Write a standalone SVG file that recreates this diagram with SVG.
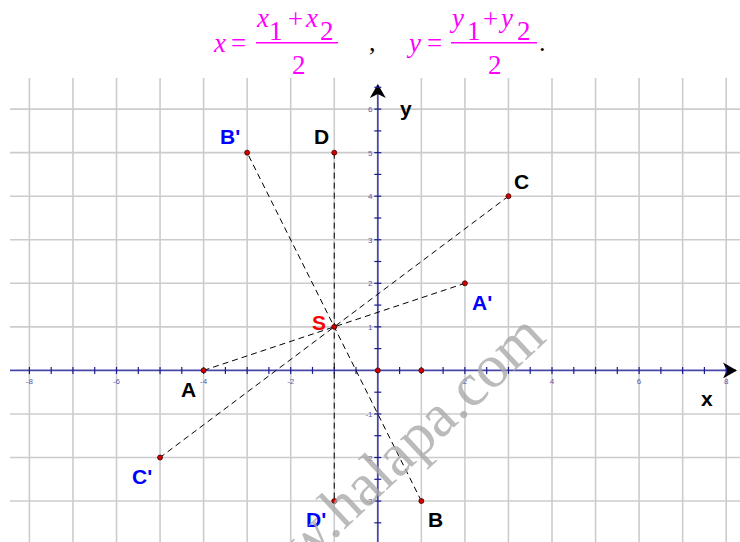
<svg xmlns="http://www.w3.org/2000/svg" width="740" height="542" viewBox="0 0 740 542">
<style>
.grid line{stroke:#cccccc;stroke-width:1.6}
.axis{stroke:#4848a8;stroke-width:1.8;fill:none}
.tick{stroke:#1c1c8c;stroke-width:1.2}
.tl{font-family:"Liberation Sans",Arial,sans-serif;font-size:8px;fill:#5a5aa8}
.tlx{text-anchor:middle}
.tly{text-anchor:end}
.f{font-family:"Liberation Serif","Times New Roman",serif;font-size:27px;fill:#ff00ff}
.fi{font-style:italic}
.fl{stroke:#ff00ff;stroke-width:1.4}
.lbl{font-family:"Liberation Sans",Arial,sans-serif;font-weight:bold;font-size:21px}
.k{fill:#000}
.b{fill:#0000ff}
.r{fill:#ff0000}
.pt{fill:#d40000;stroke:#3a0000;stroke-width:0.8}
.dash{stroke:#000;stroke-width:1;stroke-dasharray:6,4;fill:none}
.wm{font-family:"Liberation Serif","Times New Roman",serif;font-size:61px;fill:#a8a8a8;opacity:0.78}
</style>
<defs>
<marker id="arr" viewBox="0 0 14 16" refX="13" refY="8" markerWidth="14" markerHeight="16" markerUnits="userSpaceOnUse" orient="auto">
<path d="M0,0 L14,8 L0,16 L4,8 Z" fill="#000"/>
</marker>
</defs>
<rect width="740" height="542" fill="#fff"/>

<!-- formula -->
<g id="formula">
<text class="f fi" x="214" y="51.5">x</text>
<text class="f" x="231" y="51.5">=</text>
<line class="fl" x1="256" y1="42.7" x2="338" y2="42.7"/>
<text class="f fi" x="257" y="27">x</text>
<text class="f" x="269" y="40">1</text>
<text class="f" x="288" y="28">+</text>
<text class="f fi" x="306" y="27">x</text>
<text class="f" x="320" y="40">2</text>
<text class="f" x="292" y="74">2</text>
<text x="369" y="51" style="font-family:'Liberation Serif',serif;font-size:26px;fill:#000">,</text>
<text class="f fi" x="409" y="51.5">y</text>
<text class="f" x="427" y="51.5">=</text>
<line class="fl" x1="451" y1="42.7" x2="537" y2="42.7"/>
<text class="f fi" x="452" y="27">y</text>
<text class="f" x="467" y="40">1</text>
<text class="f" x="483" y="28">+</text>
<text class="f fi" x="501" y="27">y</text>
<text class="f" x="517" y="40">2</text>
<text class="f" x="488" y="74">2</text>
<text x="539" y="51" style="font-family:'Liberation Serif',serif;font-size:26px;fill:#000">.</text>
</g>

<!-- grid -->
<g class="grid">
<line x1="29.4" y1="78" x2="29.4" y2="542"/>
<line x1="72.95" y1="78" x2="72.95" y2="542"/>
<line x1="116.5" y1="78" x2="116.5" y2="542"/>
<line x1="160.05" y1="78" x2="160.05" y2="542"/>
<line x1="203.6" y1="78" x2="203.6" y2="542"/>
<line x1="247.15" y1="78" x2="247.15" y2="542"/>
<line x1="290.7" y1="78" x2="290.7" y2="542"/>
<line x1="334.25" y1="78" x2="334.25" y2="542"/>
<line x1="421.35" y1="78" x2="421.35" y2="542"/>
<line x1="464.9" y1="78" x2="464.9" y2="542"/>
<line x1="508.45" y1="78" x2="508.45" y2="542"/>
<line x1="552" y1="78" x2="552" y2="542"/>
<line x1="595.55" y1="78" x2="595.55" y2="542"/>
<line x1="639.1" y1="78" x2="639.1" y2="542"/>
<line x1="682.65" y1="78" x2="682.65" y2="542"/>
<line x1="726.2" y1="78" x2="726.2" y2="542"/>
<line x1="10" y1="109.1" x2="740" y2="109.1"/>
<line x1="10" y1="152.65" x2="740" y2="152.65"/>
<line x1="10" y1="196.2" x2="740" y2="196.2"/>
<line x1="10" y1="239.75" x2="740" y2="239.75"/>
<line x1="10" y1="283.3" x2="740" y2="283.3"/>
<line x1="10" y1="326.85" x2="740" y2="326.85"/>
<line x1="10" y1="413.95" x2="740" y2="413.95"/>
<line x1="10" y1="457.5" x2="740" y2="457.5"/>
<line x1="10" y1="501.05" x2="740" y2="501.05"/>
</g>

<!-- axes -->
<g id="axes">
<line class="axis" x1="10" y1="370.4" x2="736" y2="370.4" marker-end="url(#arr)"/>
<line class="axis" x1="377.8" y1="542" x2="377.8" y2="85" marker-end="url(#arr)"/>
<g class="tick">
<line x1="29.4" y1="366.9" x2="29.4" y2="373.9"/><line x1="51.2" y1="366.9" x2="51.2" y2="373.9"/>
<line x1="72.95" y1="366.9" x2="72.95" y2="373.9"/><line x1="94.7" y1="366.9" x2="94.7" y2="373.9"/>
<line x1="116.5" y1="366.9" x2="116.5" y2="373.9"/><line x1="138.3" y1="366.9" x2="138.3" y2="373.9"/>
<line x1="160.05" y1="366.9" x2="160.05" y2="373.9"/><line x1="181.8" y1="366.9" x2="181.8" y2="373.9"/>
<line x1="203.6" y1="366.9" x2="203.6" y2="373.9"/><line x1="225.4" y1="366.9" x2="225.4" y2="373.9"/>
<line x1="247.15" y1="366.9" x2="247.15" y2="373.9"/><line x1="268.9" y1="366.9" x2="268.9" y2="373.9"/>
<line x1="290.7" y1="366.9" x2="290.7" y2="373.9"/><line x1="312.5" y1="366.9" x2="312.5" y2="373.9"/>
<line x1="334.25" y1="366.9" x2="334.25" y2="373.9"/><line x1="356" y1="366.9" x2="356" y2="373.9"/>
<line x1="399.6" y1="366.9" x2="399.6" y2="373.9"/><line x1="421.35" y1="366.9" x2="421.35" y2="373.9"/>
<line x1="443.1" y1="366.9" x2="443.1" y2="373.9"/><line x1="464.9" y1="366.9" x2="464.9" y2="373.9"/>
<line x1="486.7" y1="366.9" x2="486.7" y2="373.9"/><line x1="508.45" y1="366.9" x2="508.45" y2="373.9"/>
<line x1="530.2" y1="366.9" x2="530.2" y2="373.9"/><line x1="552" y1="366.9" x2="552" y2="373.9"/>
<line x1="573.8" y1="366.9" x2="573.8" y2="373.9"/><line x1="595.55" y1="366.9" x2="595.55" y2="373.9"/>
<line x1="617.3" y1="366.9" x2="617.3" y2="373.9"/><line x1="639.1" y1="366.9" x2="639.1" y2="373.9"/>
<line x1="660.9" y1="366.9" x2="660.9" y2="373.9"/><line x1="682.65" y1="366.9" x2="682.65" y2="373.9"/>
<line x1="704.4" y1="366.9" x2="704.4" y2="373.9"/><line x1="726.2" y1="366.9" x2="726.2" y2="373.9"/>
<line x1="374.3" y1="87.3" x2="381.3" y2="87.3"/><line x1="374.3" y1="109.1" x2="381.3" y2="109.1"/>
<line x1="374.3" y1="130.9" x2="381.3" y2="130.9"/><line x1="374.3" y1="152.65" x2="381.3" y2="152.65"/>
<line x1="374.3" y1="174.4" x2="381.3" y2="174.4"/><line x1="374.3" y1="196.2" x2="381.3" y2="196.2"/>
<line x1="374.3" y1="218" x2="381.3" y2="218"/><line x1="374.3" y1="239.75" x2="381.3" y2="239.75"/>
<line x1="374.3" y1="261.5" x2="381.3" y2="261.5"/><line x1="374.3" y1="283.3" x2="381.3" y2="283.3"/>
<line x1="374.3" y1="305.1" x2="381.3" y2="305.1"/><line x1="374.3" y1="326.85" x2="381.3" y2="326.85"/>
<line x1="374.3" y1="348.6" x2="381.3" y2="348.6"/>
<line x1="374.3" y1="392.2" x2="381.3" y2="392.2"/><line x1="374.3" y1="413.95" x2="381.3" y2="413.95"/>
<line x1="374.3" y1="435.7" x2="381.3" y2="435.7"/><line x1="374.3" y1="457.5" x2="381.3" y2="457.5"/>
<line x1="374.3" y1="479.3" x2="381.3" y2="479.3"/><line x1="374.3" y1="501.05" x2="381.3" y2="501.05"/>
<line x1="374.3" y1="522.8" x2="381.3" y2="522.8"/>
</g>
<g class="tl tlx">
<text x="29.4" y="384">-8</text><text x="116.5" y="384">-6</text><text x="203.6" y="384">-4</text><text x="290.7" y="384">-2</text>
<text x="464.9" y="384">2</text><text x="552" y="384">4</text><text x="639.1" y="384">6</text><text x="726.2" y="384">8</text>
</g>
<g class="tl tly">
<text x="372.5" y="112">6</text><text x="372.5" y="155.6">5</text><text x="372.5" y="199.2">4</text><text x="372.5" y="242.7">3</text>
<text x="372.5" y="286.3">2</text><text x="372.5" y="329.8">1</text><text x="372.5" y="417">-1</text><text x="372.5" y="460.5">-2</text><text x="372.5" y="504">-3</text>
</g>
<text class="lbl k" x="701" y="406">x</text>
<text class="lbl k" x="400" y="116">y</text>
</g>

<!-- connectors -->
<g id="connectors">
<line class="dash" x1="203.6" y1="370.4" x2="464.9" y2="283.3"/>
<line class="dash" x1="421.35" y1="501.05" x2="247.15" y2="152.65"/>
<line class="dash" x1="508.45" y1="196.2" x2="160.05" y2="457.5"/>
<line class="dash" x1="334.25" y1="152.65" x2="334.25" y2="501.05"/>
</g>

<!-- nodes -->
<g id="O"><circle class="pt" cx="377.8" cy="370.4" r="2.5"/></g>
<g id="E"><circle class="pt" cx="421.35" cy="370.4" r="2.5"/></g>
<g id="A"><circle class="pt" cx="203.6" cy="370.4" r="2.5"/><text class="lbl k" x="181" y="397">A</text></g>
<g id="B"><circle class="pt" cx="421.35" cy="501.05" r="2.5"/><text class="lbl k" x="428" y="527">B</text></g>
<g id="C"><circle class="pt" cx="508.45" cy="196.2" r="2.5"/><text class="lbl k" x="514" y="188.5">C</text></g>
<g id="D"><circle class="pt" cx="334.25" cy="152.65" r="2.5"/><text class="lbl k" x="314" y="144">D</text></g>
<g id="S"><circle class="pt" cx="334.25" cy="326.85" r="2.5"/><text class="lbl r" x="312" y="329.5">S</text></g>
<g id="A1"><circle class="pt" cx="464.9" cy="283.3" r="2.5"/><text class="lbl b" x="472" y="309.5">A'</text></g>
<g id="B1"><circle class="pt" cx="247.15" cy="152.65" r="2.5"/><text class="lbl b" x="220" y="143.5">B'</text></g>
<g id="C1"><circle class="pt" cx="160.05" cy="457.5" r="2.5"/><text class="lbl b" x="132" y="483.5">C'</text></g>
<g id="D1"><circle class="pt" cx="334.25" cy="501.05" r="2.5"/><text class="lbl b" x="306" y="527">D'</text></g>

<!-- watermark -->
<text class="wm" transform="translate(464,418) rotate(-43)" x="-308" y="0">www.halapa.com</text>
</svg>
